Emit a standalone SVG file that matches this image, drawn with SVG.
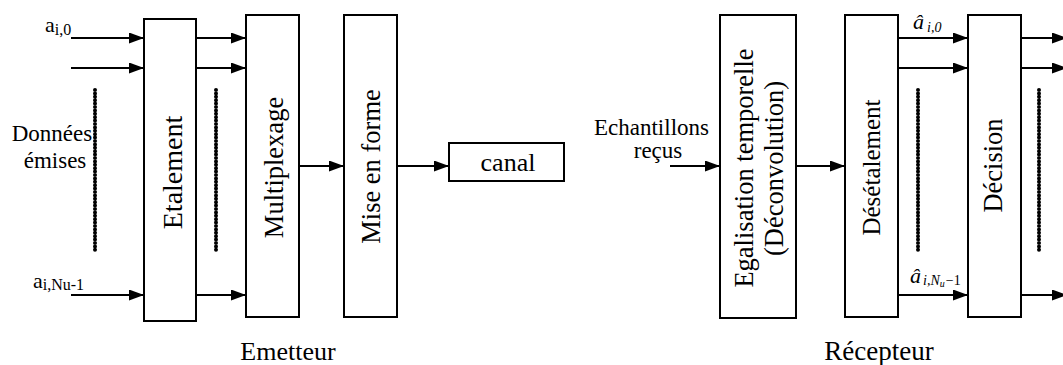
<svg xmlns="http://www.w3.org/2000/svg" width="1063" height="365" viewBox="0 0 1063 365">
<defs>
<marker id="ah" markerUnits="userSpaceOnUse" markerWidth="15" markerHeight="11" refX="15" refY="5.5" orient="auto">
<path d="M0,0 L15,5.5 L0,11 z" fill="#000"/>
</marker>
<style>
.box{fill:#fff;stroke:#000;stroke-width:2}
.ln{fill:none;stroke:#000;stroke-width:1.8;marker-end:url(#ah)}
.dot{fill:none;stroke:#000;stroke-width:4;stroke-linecap:round;stroke-dasharray:0 3.4}
.v{font-size:26.5px;text-anchor:middle}
.h{text-anchor:middle}
.it{font-style:italic}
</style>
</defs>
<rect width="1063" height="365" fill="#fff"/>

<g id="connectors">
<line class="ln" x1="71" y1="38" x2="144" y2="38"/>
<line class="ln" x1="71" y1="68" x2="144" y2="68"/>
<line class="ln" x1="71" y1="295" x2="144" y2="295"/>
<line class="ln" x1="196" y1="38" x2="246" y2="38"/>
<line class="ln" x1="196" y1="68" x2="246" y2="68"/>
<line class="ln" x1="196" y1="295" x2="246" y2="295"/>
<line class="ln" x1="299" y1="166" x2="344" y2="166"/>
<line class="ln" x1="397" y1="166" x2="449" y2="166"/>
<line class="ln" x1="670" y1="166" x2="720" y2="166"/>
<line class="ln" x1="796" y1="166" x2="845" y2="166"/>
<line class="ln" x1="898" y1="38" x2="968" y2="38"/>
<line class="ln" x1="898" y1="68" x2="968" y2="68"/>
<line class="ln" x1="898" y1="295" x2="968" y2="295"/>
<line class="ln" x1="1021" y1="38" x2="1067" y2="38"/>
<line class="ln" x1="1021" y1="68" x2="1067" y2="68"/>
<line class="ln" x1="1021" y1="295" x2="1067" y2="295"/>
<line class="dot" x1="95" y1="90" x2="95" y2="250"/>
<line class="dot" x1="216" y1="90" x2="216" y2="250"/>
<line class="dot" x1="918" y1="90" x2="918" y2="250"/>
<line class="dot" x1="1039" y1="90" x2="1039" y2="250"/>
</g>

<g font-family="'Liberation Serif', 'DejaVu Serif', serif" fill="#000">
<g id="etalement">
<rect class="box" x="144" y="19" width="52" height="302"/>
<text class="v" style="font-size:28px" transform="translate(182,172.5) rotate(-90)">Etalement</text>
</g>
<g id="multiplexage">
<rect class="box" x="246" y="15" width="53" height="302"/>
<text class="v" transform="translate(283,167.5) rotate(-90)">Multiplexage</text>
</g>
<g id="mise-en-forme">
<rect class="box" x="344" y="15" width="53" height="302"/>
<text class="v" transform="translate(380,166.5) rotate(-90)">Mise en forme</text>
</g>
<g id="canal">
<rect class="box" x="449" y="143" width="115" height="38"/>
<text class="h" x="508" y="171" font-size="26">canal</text>
</g>
<g id="egalisation">
<rect class="box" x="720" y="15" width="76" height="303"/>
<text class="v" transform="translate(753,168) rotate(-90)">Egalisation temporelle</text>
<text class="v" transform="translate(783,168.5) rotate(-90)">(Déconvolution)</text>
</g>
<g id="desetalement">
<rect class="box" x="845" y="15" width="53" height="302"/>
<text class="v" style="font-size:25px" transform="translate(880,167.5) rotate(-90)">Désétalement</text>
</g>
<g id="decision">
<rect class="box" x="968" y="15" width="53" height="302"/>
<text class="v" transform="translate(1001.5,165.5) rotate(-90)">Décision</text>
</g>

<g id="labels">
<text x="45" y="32" font-size="22">a<tspan font-size="16" dy="3">i,0</tspan></text>
<text x="33" y="288" font-size="22">a<tspan font-size="16" dy="2">i,Nu-1</tspan></text>
<text class="h" x="52" y="141" font-size="23">Données</text>
<text class="h" x="55" y="168" font-size="23">émises</text>
<text class="h" x="651.5" y="135" font-size="23">Echantillons</text>
<text class="h" x="658" y="158" font-size="23">reçus</text>
<text class="it" x="913" y="29" font-size="22">â<tspan font-size="14" dx="3" dy="3">i,0</tspan></text>
<text class="it" x="910" y="283" font-size="22">â<tspan font-size="14" dx="2" dy="2">i,N</tspan><tspan font-size="10" dy="2">u</tspan><tspan font-size="14" font-style="normal" dx="1" dy="-2">−1</tspan></text>
<text class="h" x="288" y="360" font-size="26">Emetteur</text>
<text class="h" x="879" y="360" font-size="27">Récepteur</text>
</g>
</g>
</svg>
